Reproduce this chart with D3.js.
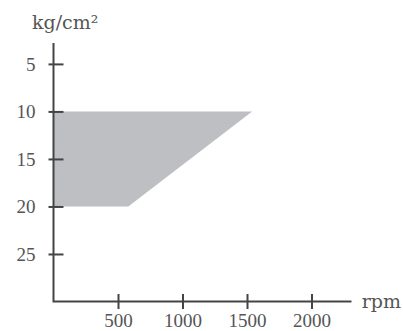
<!DOCTYPE html>
<html lang="en">
  <head>
    <meta charset="UTF-8" />
    <title>Pressure vs rpm</title>
    <script src="https://d3js.org/d3.v7.min.js"></script>
    <style>
      html,
      body {
        margin: 0;
        padding: 0;
        background: #fff;
      }
      .tick text {
        font-family: "Liberation Serif", serif;
        font-size: 19px;
        fill: #555;
      }
      .unit {
        font-family: "DejaVu Serif", serif;
        font-size: 19px;
        fill: #555;
      }
    </style>
  </head>
  <body>
    <svg id="chart"></svg>
    <script>
      // operating region outline (rpm, kg/cm2)
      const rpmValues = [0, 1540, 580, 0];
      const pressureValues = [10, 10, 20, 20];

      const xTicks = [500, 1000, 1500, 2000];
      const yTicks = [5, 10, 15, 20, 25];

      const width = 403;
      const height = 331;
      const axisColor = "#444";

      const svg = d3
        .select("#chart")
        .attr("width", width)
        .attr("height", height);

      // pressure grows downward
      const x = d3.scaleLinear().domain([0, 2310]).range([53.5, 351.5]);
      const y = d3.scaleLinear().domain([2.8, 30]).range([43, 301.5]);

      // shaded area
      const pts = rpmValues.map((r, i) => [x(r), y(pressureValues[i])]);
      svg
        .append("path")
        .attr("d", d3.line()(pts) + "Z")
        .attr("fill", "#bebfc3");

      // y axis
      const yAxis = svg
        .append("g")
        .attr("transform", `translate(${x(0)},0)`)
        .call(
          d3
            .axisLeft(y)
            .tickValues(yTicks)
            .tickFormat(d3.format("d"))
            .tickSize(0)
            .tickPadding(18)
        );
      yAxis.select(".domain").remove();
      yAxis
        .selectAll(".tick line")
        .attr("x1", -5)
        .attr("x2", 10)
        .attr("stroke", axisColor)
        .attr("stroke-width", 2);

      // x axis
      const xAxis = svg
        .append("g")
        .attr("transform", `translate(0,${y(30)})`)
        .call(
          d3
            .axisBottom(x)
            .tickValues(xTicks)
            .tickFormat(d3.format("d"))
            .tickSize(0)
            .tickPadding(12)
        );
      xAxis.select(".domain").remove();
      xAxis
        .selectAll(".tick line")
        .attr("y1", -7.5)
        .attr("y2", 7.5)
        .attr("stroke", axisColor)
        .attr("stroke-width", 2);

      // axis lines
      svg
        .append("path")
        .attr("d", `M${x(0)},${y(2.8)}V${y(30)}H${x(2310)}`)
        .attr("fill", "none")
        .attr("stroke", axisColor)
        .attr("stroke-width", 2);

      // unit labels
      svg
        .append("text")
        .attr("class", "unit")
        .attr("x", 32)
        .attr("y", 29)
        .text("kg/cm²");

      svg
        .append("text")
        .attr("class", "unit")
        .attr("x", 401)
        .attr("y", y(30) + 6)
        .attr("text-anchor", "end")
        .text("rpm");
    </script>
  </body>
</html>
